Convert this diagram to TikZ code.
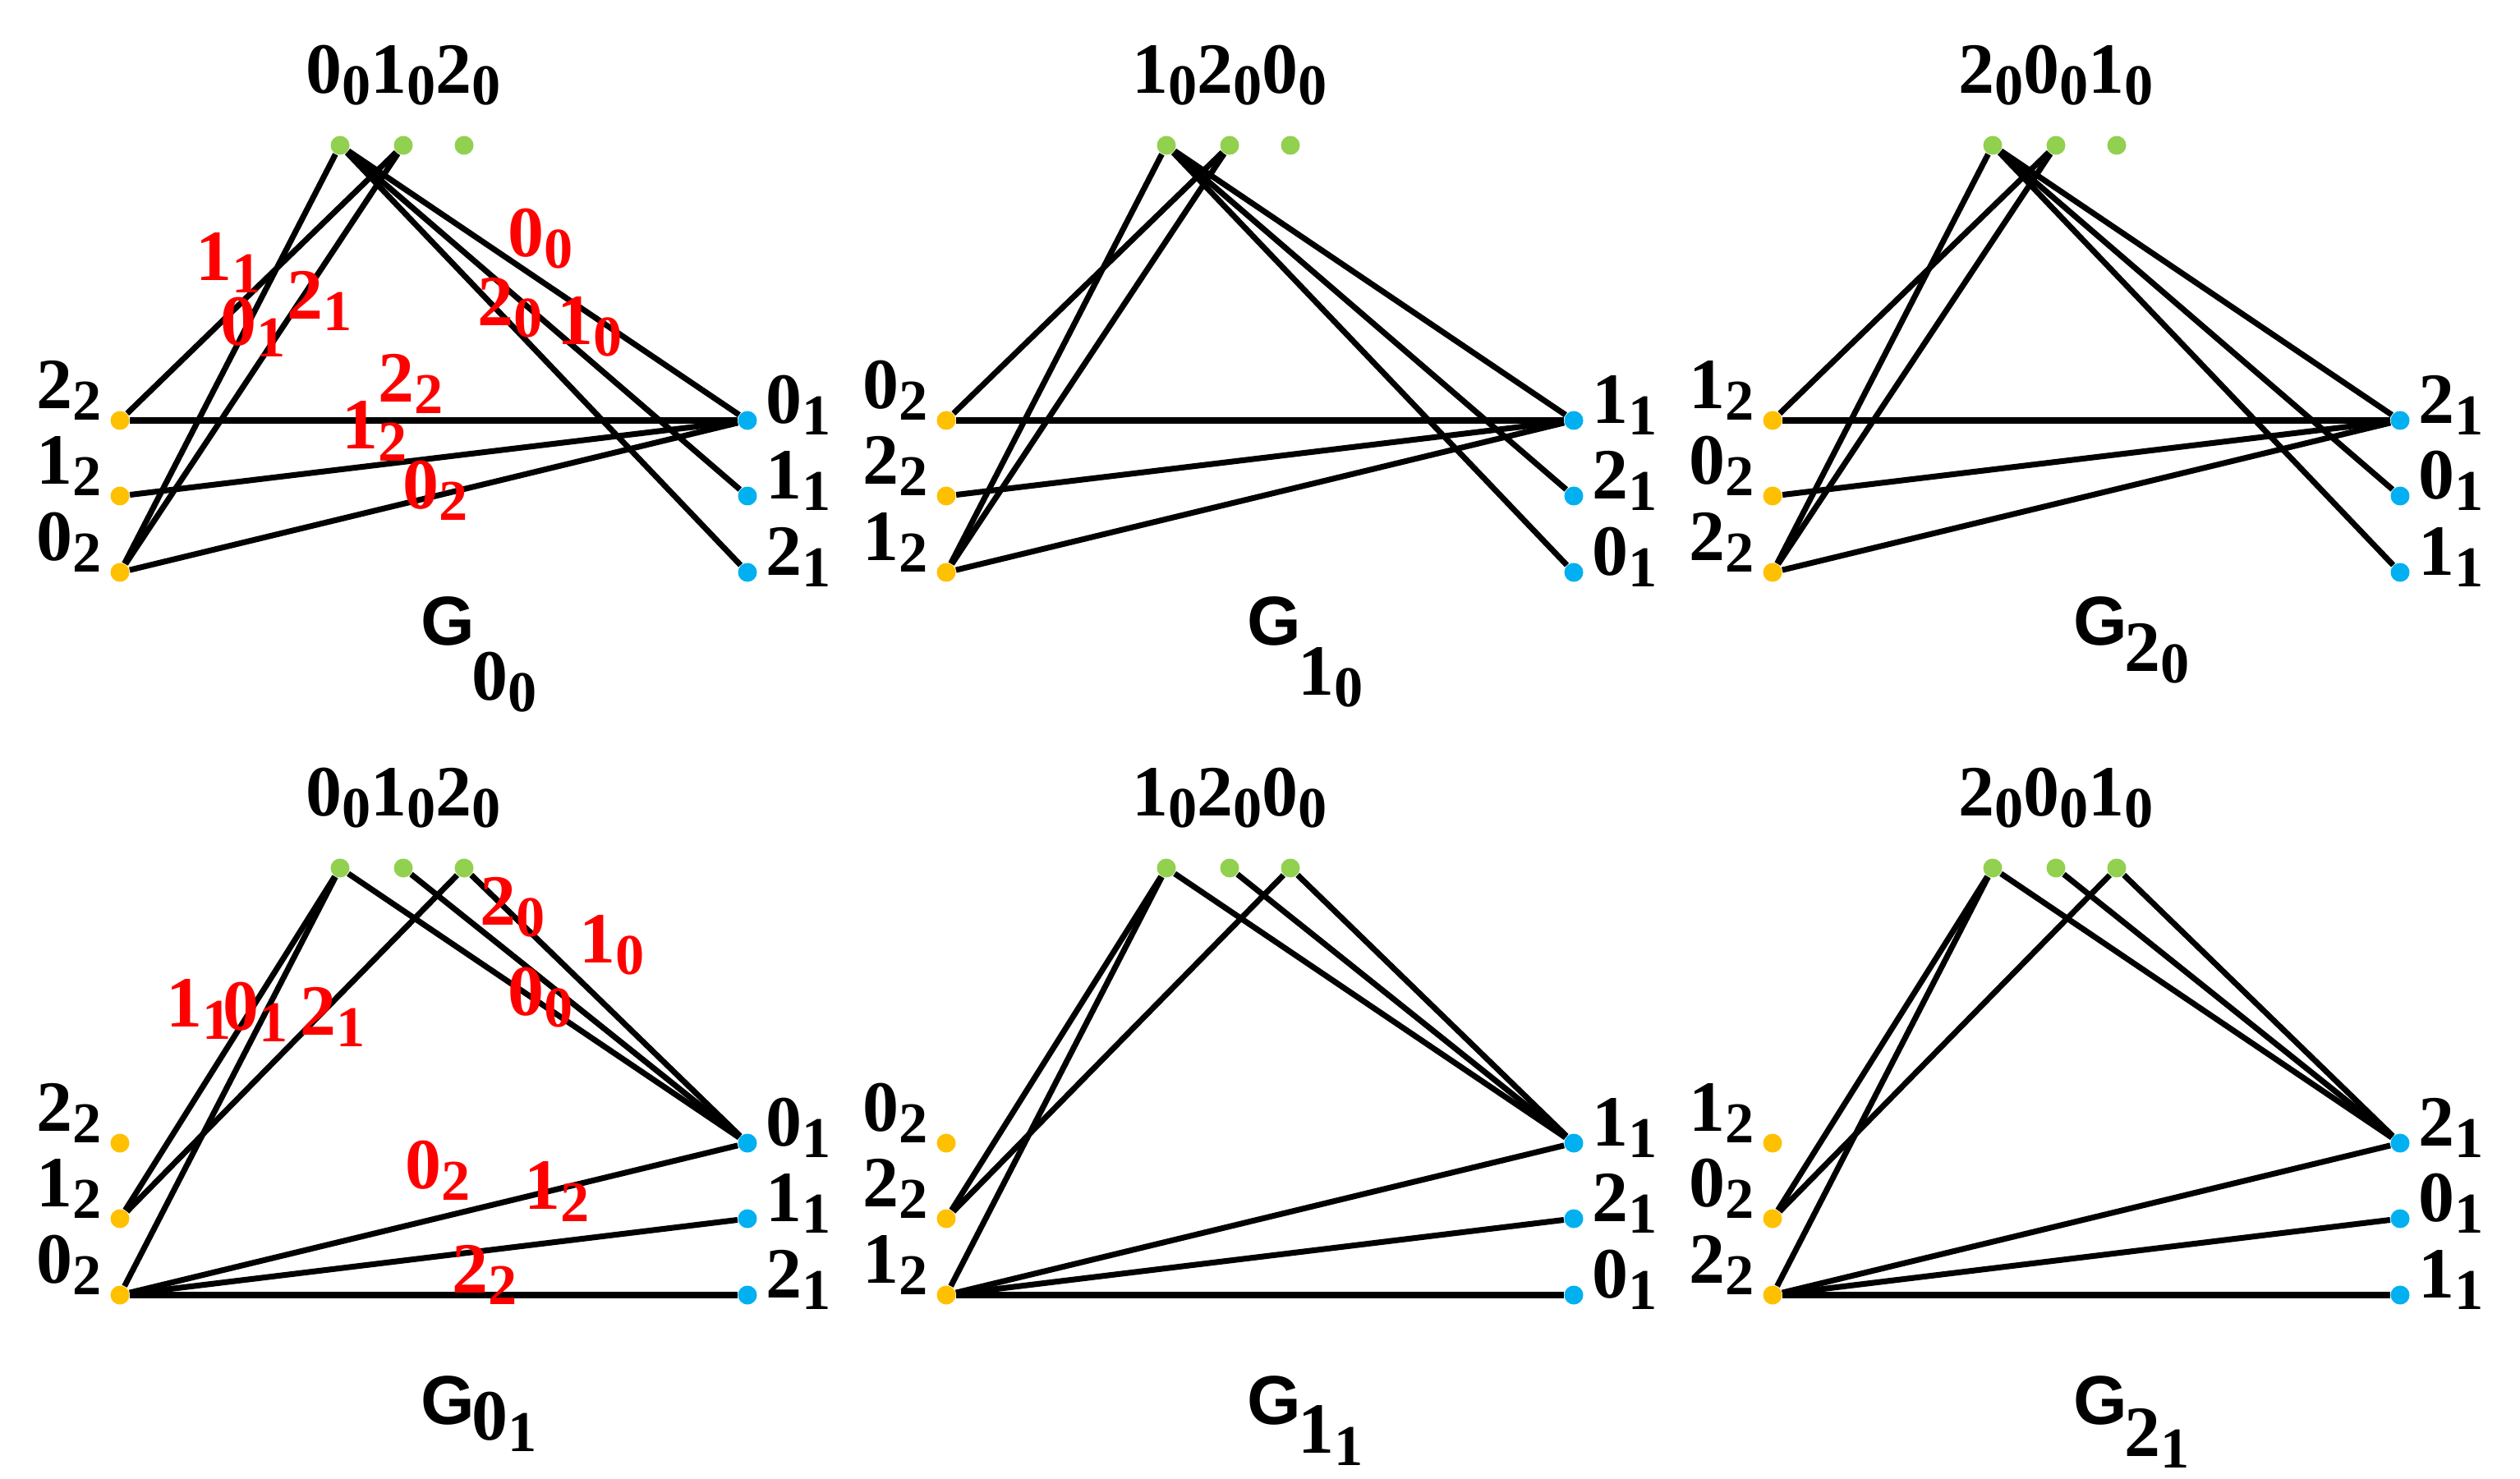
\documentclass[tikz,border=0pt]{standalone}
\usepackage{fontspec}
\newfontfamily\dfont{Liberation Serif}[BoldFont={Liberation Serif Bold}]
\newfontfamily\gfont{Liberation Sans}[BoldFont={Liberation Sans Bold}]
\usetikzlibrary{positioning}
\definecolor{topgreen}{HTML}{92D050}
\definecolor{leftyellow}{HTML}{FFC000}
\definecolor{rightblue}{HTML}{00B0F0}
\newcommand{\ix}[2]{#1\raisebox{-0.35ex}{\scalebox{0.8}{#2}}}

\begin{document}
\begin{tikzpicture}[x=1cm,y=1cm]
\tikzset{dot/.style = {shape=circle,fill=#1,minimum size=0.23cm,inner sep=0pt}}
\tikzset{edge/.style = {line width=2pt, black}}
\tikzset{lbl/.style = {font=\dfont\bfseries\fontsize{25}{27}\selectfont, inner sep=1pt}}
\tikzset{red lbl/.style = {lbl, text=red}}
\useasboundingbox (0,0) rectangle (30.68,18);
% the six panels: column, row, top labels, left labels, right labels, name
\foreach \c/\r/\ta/\tb/\tc/\la/\lb/\lc/\ra/\rb/\rc/\gs/\gy/\sy in
  {0/0/0/1/2/2/1/0/0/1/2/0/10.44/9.69,
   1/0/1/2/0/0/2/1/1/2/0/1/10.44/9.75,
   2/0/2/0/1/1/0/2/2/0/1/2/10.44/10.04,
   0/1/0/1/2/2/1/0/0/1/2/0/9.75/9.49,
   1/1/1/2/0/0/2/1/1/2/0/1/9.75/9.32,
   2/1/2/0/1/1/0/2/2/0/1/2/9.75/9.29}{
\begin{scope}[shift={(10.06*\c,-8.8*\r)}]
\node[dot=topgreen] (g\c\r0) at (4.14,16.23) {};
\node[dot=topgreen] (g\c\r1) at (4.91,16.23) {};
\node[dot=topgreen] (g\c\r2) at (5.65,16.23) {};
\node[dot=leftyellow] (y\c\r0) at (1.46,12.88) {};
\node[dot=leftyellow] (y\c\r1) at (1.46,11.96) {};
\node[dot=leftyellow] (y\c\r2) at (1.46,11.03) {};
\node[dot=rightblue] (b\c\r0) at (9.10,12.88) {};
\node[dot=rightblue] (b\c\r1) at (9.10,11.96) {};
\node[dot=rightblue] (b\c\r2) at (9.10,11.03) {};
% labels
\node[lbl] (top\c\r) at (4.91,17.08) {\ix{\ta}{0}\ix{\tb}{0}\ix{\tc}{0}};
\node[lbl, above left=-0.12cm and 0.1cm of y\c\r0] {\ix{\la}{2}};
\node[lbl, above left=-0.12cm and 0.1cm of y\c\r1] {\ix{\lb}{2}};
\node[lbl, above left=-0.12cm and 0.1cm of y\c\r2] {\ix{\lc}{2}};
\node[lbl, above right=-0.3cm and 0.1cm of b\c\r0] {\ix{\ra}{1}};
\node[lbl, above right=-0.3cm and 0.1cm of b\c\r1] {\ix{\rb}{1}};
\node[lbl, above right=-0.3cm and 0.1cm of b\c\r2] {\ix{\rc}{1}};
\node[font=\gfont\bfseries\fontsize{24}{26}\selectfont] (G\c\r) at (5.45,\gy) {G};
\node[lbl] (Gs\c\r) at (6.14,\sy) {\ix{\gs}{\r}};
\end{scope}
}
%edges, upper row
\foreach \c in {0,1,2}{
\draw[edge] (g\c00) -- (y\c02);
\draw[edge] (g\c01) -- (y\c00);
\draw[edge] (g\c01) -- (y\c02);
\draw[edge] (g\c00) -- (b\c00);
\draw[edge] (g\c00) -- (b\c01);
\draw[edge] (g\c00) -- (b\c02);
\draw[edge] (y\c00) -- (b\c00);
\draw[edge] (y\c01) -- (b\c00);
\draw[edge] (y\c02) -- (b\c00);
}
%edges, lower row
\foreach \c in {0,1,2}{
\draw[edge] (g\c10) -- (y\c11);
\draw[edge] (g\c10) -- (y\c12);
\draw[edge] (g\c12) -- (y\c11);
\draw[edge] (g\c10) -- (b\c10);
\draw[edge] (g\c11) -- (b\c10);
\draw[edge] (g\c12) -- (b\c10);
\draw[edge] (y\c12) -- (b\c10);
\draw[edge] (y\c12) -- (b\c11);
\draw[edge] (y\c12) -- (b\c12);
}
% red labels, G_{0_0}
\node[red lbl] (e11) at (2.78,14.80) {\ix{1}{1}};
\node[red lbl] (e01) at (3.08,14.02) {\ix{0}{1}};
\node[red lbl] (e21) at (3.89,14.34) {\ix{2}{1}};
\node[red lbl] (e00) at (6.58,15.09) {\ix{0}{0}};
\node[red lbl] (e20) at (6.21,14.25) {\ix{2}{0}};
\node[red lbl] (e10) at (7.18,14.02) {\ix{1}{0}};
\node[red lbl] (e22) at (5.00,13.33) {\ix{2}{2}};
\node[red lbl] (e12) at (4.56,12.75) {\ix{1}{2}};
\node[red lbl] (e02) at (5.30,12.03) {\ix{0}{2}};
% red labels, G_{0_1}
\node[red lbl] (f11) at (2.42,5.71) {\ix{1}{1}};
\node[red lbl] (f01) at (3.11,5.68) {\ix{0}{1}};
\node[red lbl] (f21) at (4.05,5.62) {\ix{2}{1}};
\node[red lbl] (f20) at (6.24,6.95) {\ix{2}{0}};
\node[red lbl] (f10) at (7.45,6.49) {\ix{1}{0}};
\node[red lbl] (f00) at (6.58,5.85) {\ix{0}{0}};
\node[red lbl] (f02) at (5.33,3.75) {\ix{0}{2}};
\node[red lbl] (f12) at (6.78,3.49) {\ix{1}{2}};
\node[red lbl] (f22) at (5.90,2.48) {\ix{2}{2}};
\end{tikzpicture}
\end{document}
